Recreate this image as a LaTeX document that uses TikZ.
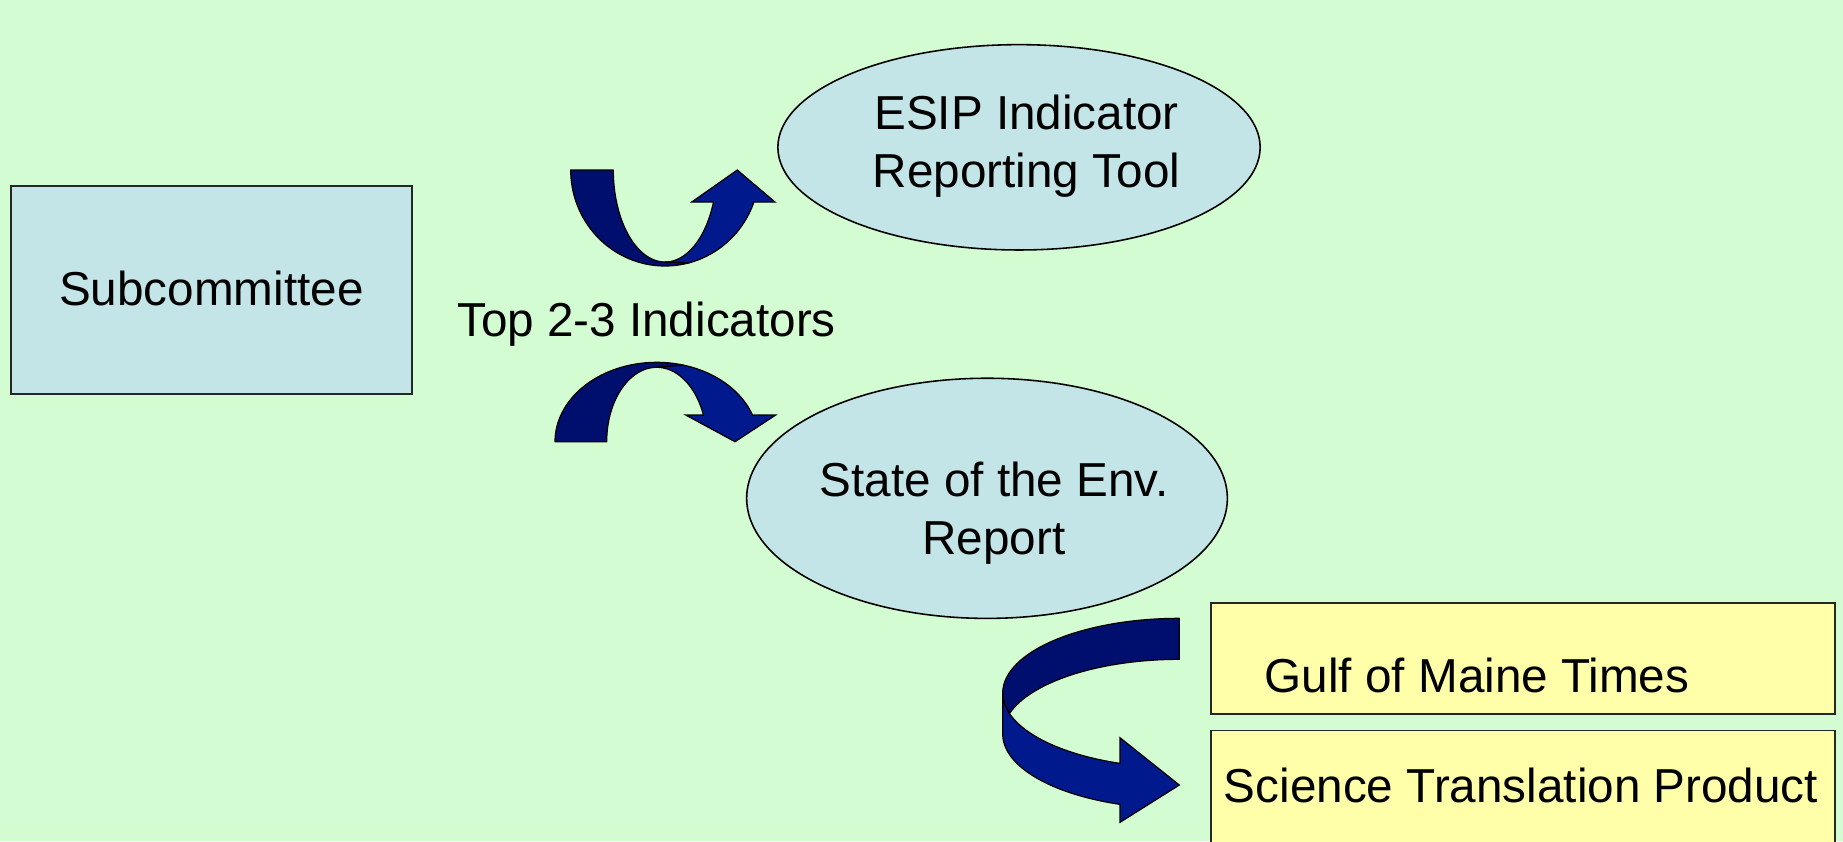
\documentclass[tikz,border=0pt]{standalone}
\usepackage{fontspec}
\setmainfont{Liberation Sans}
\usetikzlibrary{shapes.geometric}
\definecolor{bggreen}{RGB}{211,252,211}
\definecolor{paleblue}{RGB}{196,229,231}
\definecolor{paleyellow}{RGB}{255,255,170}
\definecolor{navyback}{RGB}{0,15,110}
\definecolor{navyfront}{RGB}{0,26,142}
\tikzset{
  bluebox/.style={draw=black!85, line width=0.7pt, fill=paleblue, rectangle, inner sep=0pt},
  blueoval/.style={draw=black, line width=0.45pt, fill=paleblue, ellipse, inner sep=0pt},
  yellowbox/.style={draw=black!85, line width=0.5pt, fill=paleyellow, rectangle, inner sep=0pt},
  txt/.style={inner sep=0pt, anchor=base, font=\fontsize{13.55pt}{16.36pt}\selectfont, text=black},
  mtxt/.style={txt, align=center},
  backpiece/.style={fill=navyback, draw=black, line width=0.35pt, line join=round},
  frontpiece/.style={fill=navyfront, draw=black, line width=0.35pt, line join=miter},
}
\begin{document}
\begin{tikzpicture}[x=0.01cm, y=-0.01cm]
\fill[bggreen] (0,0) rectangle (1843,841);
\useasboundingbox (0,0) rectangle (1843,841);

% shapes
\node[bluebox, minimum width=4.007cm, minimum height=2.077cm] (sub) at (211.3,289.9) {};
\node[blueoval, minimum width=4.82cm, minimum height=2.052cm] (esip) at (1019,147.3) {};
\node[blueoval, minimum width=4.804cm, minimum height=2.40cm] (soe) at (987,498.3) {};
\node[yellowbox, minimum width=6.24cm, minimum height=1.11cm] (gulf) at (1523,658.5) {};
\node[yellowbox, minimum width=6.24cm, minimum height=1.195cm] (stp) at (1523,790.25) {};

% texts (base anchor of a multi-line node = baseline of its last line)
\node[txt] (subt) at (211.3,305) {Subcommittee};
\node[txt] (topt) at (646.5,336.7) {Top 2-3 Indicators};
\node[mtxt] (esipt) at (1026.5,187) {ESIP Indicator\\Reporting Tool};
\node[mtxt] (soet) at (994,554.5) {State of the Env.\\Report};
\node[txt] (gulft) at (1477,692) {Gulf of Maine Times};
\node[txt] (stpt) at (1521,802) {Science Translation Product};

% arrow 1: U-turn up
\path[backpiece] plot[domain=180:75, samples=40] ({665+94.3*cos(\x)},{170+96*sin(\x)})
  -- plot[domain=90:180, samples=40] ({665+51.7*cos(\x)},{170+92*sin(\x)}) -- cycle;
\path[frontpiece] plot[domain=90:20.4, samples=40] ({665+51.7*cos(\x)},{170+92*sin(\x)})
  -- (691.7,202) -- (737.3,170) -- (775,202)
  -- plot[domain=19.5:75, samples=40] ({665+94.3*cos(\x)},{170+96*sin(\x)}) -- cycle;

% arrow 2: arch down
\path[backpiece] plot[domain=180:285, samples=40] ({656.7+101.7*cos(\x)},{441.7+79.4*sin(\x)})
  -- plot[domain=270:180, samples=40] ({656.7+50*cos(\x)},{441.7+74.4*sin(\x)}) -- cycle;
\path[frontpiece] plot[domain=270:339, samples=40] ({656.7+50*cos(\x)},{441.7+74.4*sin(\x)})
  -- (685.7,415) -- (735,441.7) -- (775.7,415)
  -- plot[domain=340.4:285, samples=40] ({656.7+101.7*cos(\x)},{441.7+79.4*sin(\x)}) -- cycle;

% arrow 3: curve left then right
\path[backpiece] plot[domain=270:164.1, samples=50] ({1179.3+176.6*cos(\x)},{693+74.7*sin(\x)})
  -- plot[domain=195.9:270, samples=50] ({1179.3+176.6*cos(\x)},{734+74.7*sin(\x)}) -- cycle;
\path[frontpiece] (1002.7,693) -- (1002.7,734)
  -- plot[domain=180:109.6, samples=50] ({1179.3+176.6*cos(\x)},{734+74.7*sin(\x)})
  -- (1120,822.3) -- (1179.3,785) -- (1120,737.7)
  -- plot[domain=109.6:180, samples=50] ({1179.3+176.6*cos(\x)},{693+74.7*sin(\x)}) -- cycle;
\end{tikzpicture}
\end{document}
